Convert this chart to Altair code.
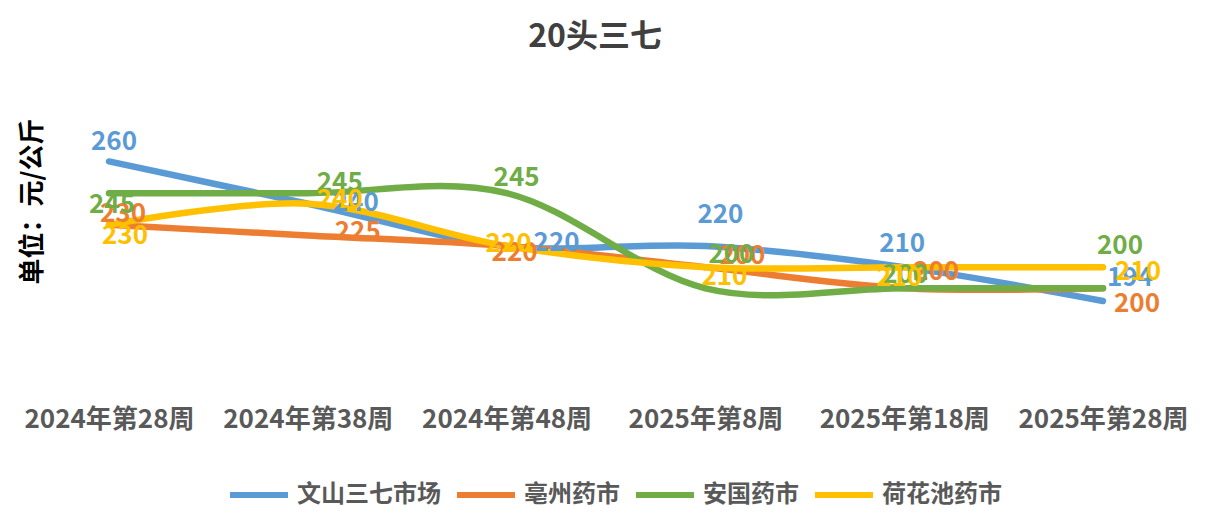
import altair as alt
import pandas as pd

categories = ["2024年第28周", "2024年第38周", "2024年第48周", "2025年第8周", "2025年第18周", "2025年第28周"]
series_names = ["文山三七市场", "亳州药市", "安国药市", "荷花池药市"]
wenshan = [260, 240, 220, 220, 210, 194]
bozhou = [230, 225, 220, 210, 200, 200]
anguo = [245, 245, 245, 200, 200, 200]
hehuachi = [230, 240, 220, 210, 210, 210]
# data label texts as printed on the chart
wenshan_labels = ["260", "240", "220", "220", "210", "194"]
bozhou_labels = ["230", "225", "220", "200", "200", "200"]
anguo_labels = ["245", "245", "245", "200", "200", "200"]
hehuachi_labels = ["230", "240", "220", "210", "210", "210"]

colors = ["#5B9BD5", "#ED7D31", "#70AD47", "#FFC000"]

# label nudges in pixels (layout only)
nudge = {
    "文山三七市场": [(5, -19), (48, -1), (50, -3), (15, -31), (-2, -23), (27, -23)],
    "亳州药市": [(14, -11), (50, -3), (8, 7), (37, -11), (32, -16), (34, 16)],
    "安国药市": [(3, 12), (32, -10), (10, -15), (26, -33), (1, -13), (17, -42)],
    "荷花池药市": [(16, 11), (32, -4), (2, -2), (19, 10), (-5, 11), (35, 5)],
}

values = [wenshan, bozhou, anguo, hehuachi]
labels = [wenshan_labels, bozhou_labels, anguo_labels, hehuachi_labels]
rows = []
for si, name in enumerate(series_names):
    for ci, cat in enumerate(categories):
        rows.append({"周": cat, "市场": name, "价格": values[si][ci],
                     "标签": labels[si][ci], "order": si, "key": f"{si}-{ci}"})
df = pd.DataFrame(rows)

FONT = "Noto Sans CJK SC"
x_scale = alt.Scale(type="point", padding=0.2716)
y_scale = alt.Scale(domain=[150, 290], nice=False, zero=False)
color_scale = alt.Scale(domain=series_names, range=colors)

x_enc = alt.X("周:N", sort=categories, title=None, scale=x_scale,
              axis=alt.Axis(labelAngle=0, ticks=False, domain=False, grid=False,
                            labelFont=FONT, labelFontSize=26, labelFontWeight="bold",
                            labelColor="#595959", labelPadding=12, labelLimit=300))
y_enc = alt.Y("价格:Q", scale=y_scale, title="单位：元/公斤",
              axis=alt.Axis(labels=False, ticks=False, domain=False, grid=False,
                            titleFont=FONT, titleFontSize=26, titleFontWeight="bold",
                            titleColor="#000000", titleAngle=270, titleX=-23, titleY=103,
                            titleAlign="center", titleBaseline="middle"))

base = alt.Chart(df)

lines = base.mark_line(interpolate="cardinal", tension=0, strokeWidth=6.5,
                       strokeCap="round", strokeJoin="round").encode(
    x=x_enc,
    y=y_enc,
    color=alt.Color("市场:N", scale=color_scale, sort=series_names,
                    legend=alt.Legend(title=None, orient="none", direction="horizontal",
                                      legendX=172, legendY=365,
                                      symbolType="stroke", symbolSize=3364,
                                      symbolStrokeWidth=6, labelFont=FONT,
                                      labelFontSize=24, labelFontWeight="bold",
                                      labelColor="#595959", labelOffset=6,
                                      columnPadding=4, labelLimit=400)),
    detail="order:O",
    order="order:Q",
)

layers = [lines]
for si, name in enumerate(series_names):
    for ci in range(len(categories)):
        dx, dy = nudge[name][ci]
        layers.append(
            base.transform_filter(alt.datum.key == f"{si}-{ci}")
            .mark_text(font=FONT, fontSize=26, fontWeight="bold", align="center",
                       baseline="middle", dx=dx, dy=dy)
            .encode(
                x=alt.X("周:N", sort=categories, scale=x_scale),
                y=alt.Y("价格:Q", scale=y_scale),
                text="标签:N",
                fill=alt.Fill("市场:N", scale=color_scale, legend=None),
            )
        )

chart = alt.layer(*layers).properties(
    width=1102, height=296,
    title=alt.TitleParams("20头三七", font=FONT, fontSize=32, fontWeight="bold",
                          color="#404040", anchor="middle", dx=-11, offset=44),
    autosize=alt.AutoSizeParams(type="none"),
    padding={"left": 47, "top": 90, "right": 45, "bottom": 116},
    background="white",
).configure_view(stroke="transparent", strokeWidth=0)

chart.save("out.html", embed_options={"renderer": "svg", "actions": False})
